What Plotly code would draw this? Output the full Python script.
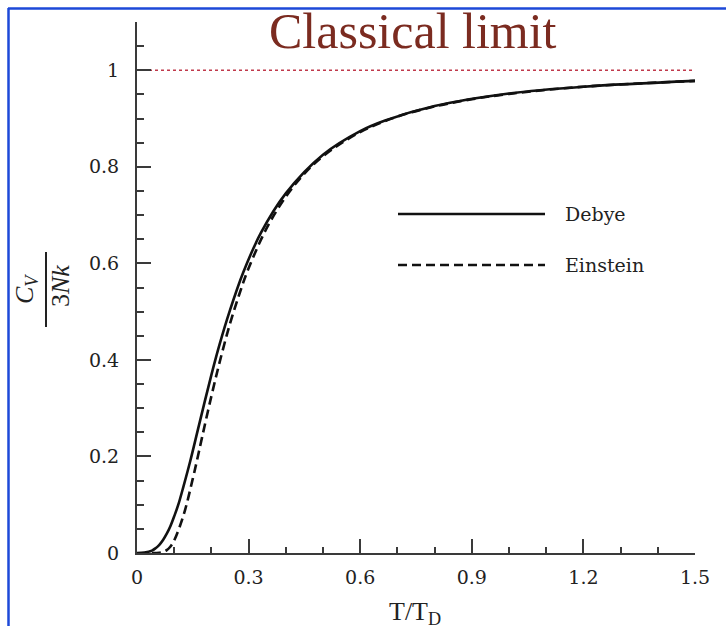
import plotly.graph_objects as go

# ---- data ----
t_debye = [0.0, 0.02, 0.04, 0.05, 0.06, 0.07, 0.08, 0.09, 0.10, 0.111, 0.125, 0.143,
           0.167, 0.20, 0.222, 0.25, 0.286, 0.333, 0.40, 0.50, 0.60, 0.667, 0.80,
           1.00, 1.20, 1.50]
c_debye = [0.0, 0.001, 0.005, 0.010, 0.017, 0.027, 0.040, 0.056, 0.076, 0.100, 0.138, 0.190,
           0.266, 0.369, 0.432, 0.503, 0.582, 0.663, 0.745, 0.825, 0.874, 0.896, 0.926,
           0.952, 0.966, 0.978]

t_einstein = [0.04, 0.05, 0.06, 0.07, 0.08, 0.09, 0.10, 0.125, 0.15, 0.164, 0.175, 0.20,
              0.225, 0.25, 0.275, 0.30, 0.35, 0.40, 0.45, 0.50, 0.60, 0.70, 0.80, 0.90,
              1.00, 1.20, 1.50]
c_einstein = [0.0, 0.0001, 0.0004, 0.002, 0.006, 0.0135, 0.026, 0.078, 0.154, 0.2015, 0.240, 0.325,
              0.404, 0.475, 0.536, 0.590, 0.675, 0.738, 0.786, 0.822, 0.872, 0.904, 0.925, 0.940,
              0.951, 0.966, 0.978]

classical_x = [0.0, 1.5]
classical_y = [1.0, 1.0]

x_ticks = [0, 0.3, 0.6, 0.9, 1.2, 1.5]
x_labels = ["0", "0.3", "0.6", "0.9", "1.2", "1.5"]
y_ticks = [0, 0.2, 0.4, 0.6, 0.8, 1.0]
y_labels = ["0", "0.2", "0.4", "0.6", "0.8", "1"]

series_names = ["Debye", "Einstein"]
title_text = "Classical limit"

# ---- layout geometry (pixels) ----
W, H = 726, 626
L, R, T, B = 137, 31, 22, 73
PW, PH = W - L - R, H - T - B


def px(x):
    return (x - L) / PW


def py(y):
    return (H - B - y) / PH


axis_col = "#3a3a3a"
tick_font = dict(family="DejaVu Serif", size=19, color="#222222")

fig = go.Figure()
fig.add_trace(go.Scatter(x=classical_x, y=classical_y, mode="lines",
                         line=dict(color="#c0394b", width=1.6, dash="dot"),
                         showlegend=False, hoverinfo="skip"))
fig.add_trace(go.Scatter(x=t_einstein, y=c_einstein, mode="lines", name=series_names[1],
                         line=dict(color="#111111", width=2.6, dash="9px,5px", shape="spline"),
                         showlegend=False))
fig.add_trace(go.Scatter(x=t_debye, y=c_debye, mode="lines", name=series_names[0],
                         line=dict(color="#111111", width=2.6, shape="spline"),
                         showlegend=False))

fig.update_xaxes(range=[0, 1.5], tickvals=x_ticks, ticktext=x_labels,
                 showline=True, linecolor=axis_col, linewidth=2,
                 ticks="inside", ticklen=14, tickwidth=2, tickcolor=axis_col,
                 minor=dict(dtick=0.1, tick0=0, ticks="inside", ticklen=6,
                            tickwidth=1.5, tickcolor=axis_col, showgrid=False),
                 showgrid=False, zeroline=False, tickfont=tick_font,
                 ticklabelstandoff=6)
fig.update_yaxes(range=[0, 1.1], tickvals=y_ticks, ticktext=y_labels,
                 showline=True, linecolor=axis_col, linewidth=2,
                 ticks="inside", ticklen=14, tickwidth=2, tickcolor=axis_col,
                 minor=dict(dtick=0.05, tick0=0, ticks="inside", ticklen=7,
                            tickwidth=1.5, tickcolor=axis_col, showgrid=False),
                 showgrid=False, zeroline=False, tickfont=tick_font,
                 ticklabelstandoff=12)

shapes = []
# blue frame (left and top)
shapes.append(dict(type="line", xref="paper", yref="paper",
                   x0=px(8.5), x1=px(8.5), y0=py(8), y1=py(640),
                   line=dict(color="#1d49d8", width=2.5)))
shapes.append(dict(type="line", xref="paper", yref="paper",
                   x0=px(8), x1=px(740), y0=py(8.5), y1=py(8.5),
                   line=dict(color="#1d49d8", width=2.5)))
# legend samples
shapes.append(dict(type="line", xref="paper", yref="paper",
                   x0=px(398), x1=px(545), y0=py(214), y1=py(214),
                   line=dict(color="#111111", width=2.6)))
shapes.append(dict(type="line", xref="paper", yref="paper",
                   x0=px(398), x1=px(545), y0=py(265), y1=py(265),
                   line=dict(color="#111111", width=2.6, dash="9px,5px")))
# fraction bar of y label
shapes.append(dict(type="line", xref="paper", yref="paper",
                   x0=px(46), x1=px(46), y0=py(252), y1=py(327),
                   line=dict(color="#222222", width=2)))

leg_font = dict(family="DejaVu Serif", size=19, color="#222222")
annotations = [
    dict(text=series_names[0], x=px(563), y=py(214), xref="paper", yref="paper",
         xanchor="left", yanchor="middle", showarrow=False, font=leg_font),
    dict(text=series_names[1], x=px(563), y=py(265), xref="paper", yref="paper",
         xanchor="left", yanchor="middle", showarrow=False, font=leg_font),
    dict(text=title_text, x=px(413), y=py(31), xref="paper", yref="paper",
         xanchor="center", yanchor="middle", showarrow=False,
         font=dict(family="Liberation Serif", size=50, color="#7b2b20")),
    dict(text="<i>C<sub>V</sub></i>", x=px(26), y=py(289), xref="paper", yref="paper",
         xanchor="center", yanchor="middle", showarrow=False, textangle=-90,
         font=dict(family="Liberation Serif", size=26, color="#222222")),
    dict(text="3<i>Nk</i>", x=px(60), y=py(286), xref="paper", yref="paper",
         xanchor="center", yanchor="middle", showarrow=False, textangle=-90,
         font=dict(family="Liberation Serif", size=26, color="#222222")),
    dict(text="T/T<sub>D</sub>", x=px(415), y=py(613), xref="paper", yref="paper",
         xanchor="center", yanchor="middle", showarrow=False,
         font=dict(family="Liberation Serif", size=26, color="#222222")),
]

fig.update_layout(width=W, height=H, margin=dict(l=L, r=R, t=T, b=B),
                  paper_bgcolor="white", plot_bgcolor="white",
                  shapes=shapes, annotations=annotations, showlegend=False)

fig.write_html("out.html")
